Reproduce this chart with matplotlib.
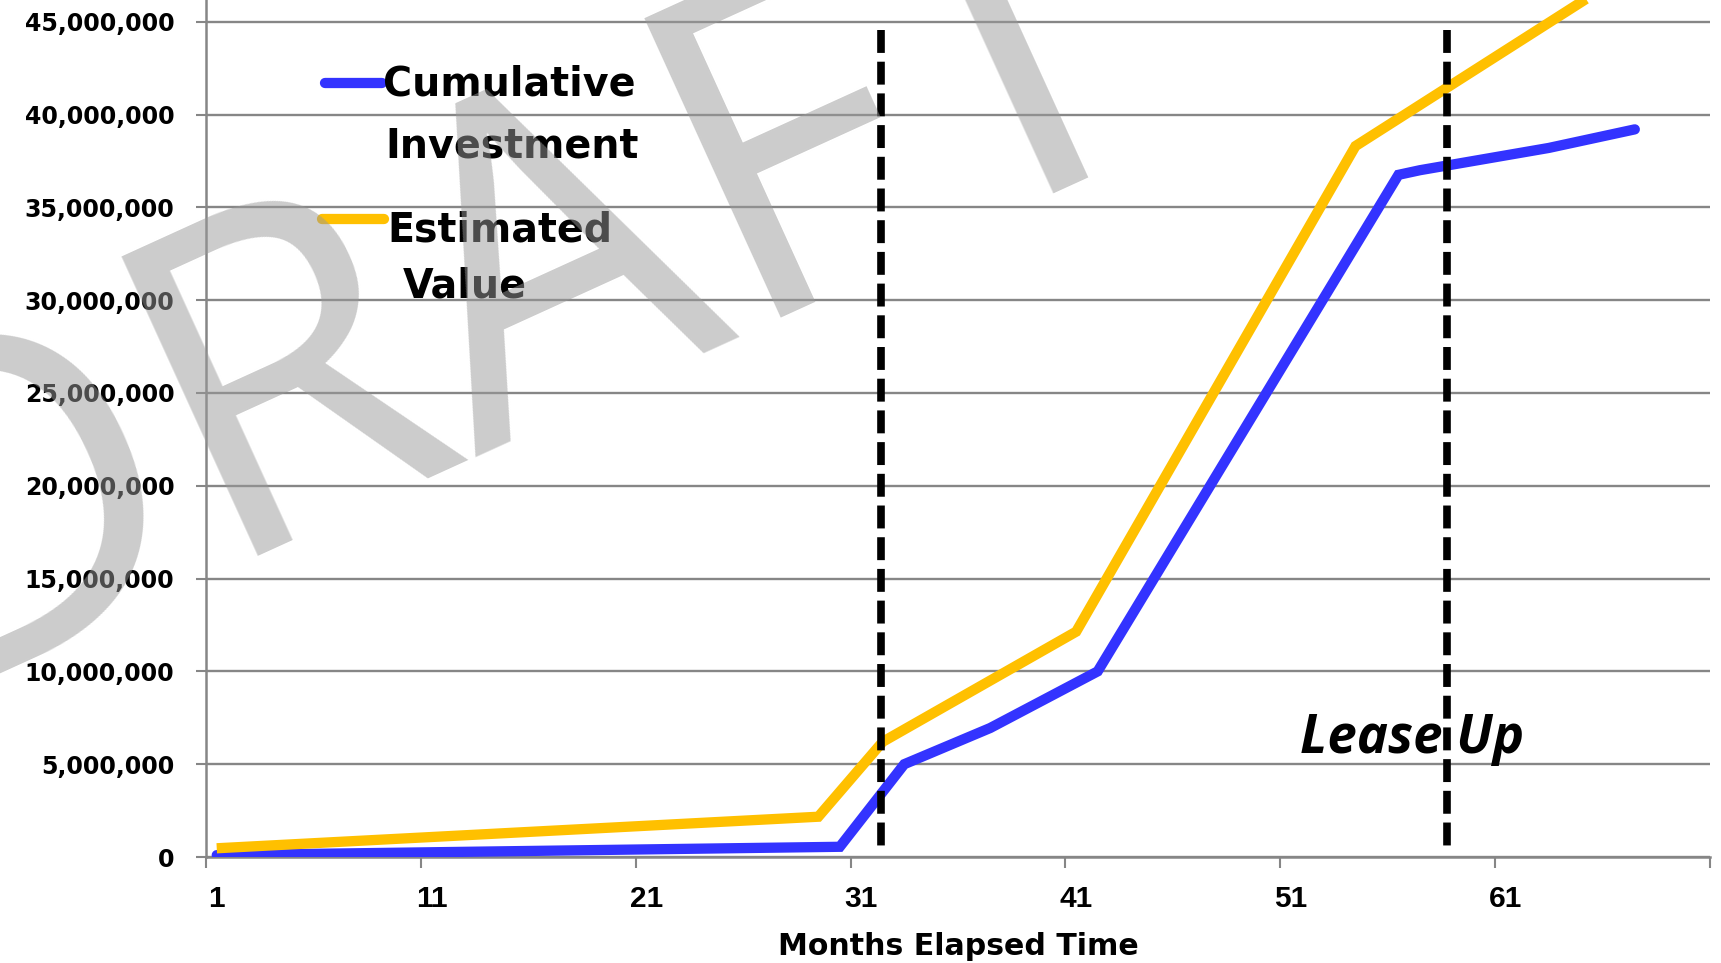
import matplotlib
matplotlib.use("Agg")
import matplotlib.pyplot as plt
from matplotlib.ticker import FuncFormatter

W, H, DPI = 1721, 963, 100

# --- data (dollars) ---
months_inv = [1, 30, 33, 37, 42, 56, 57, 63, 67]
cum_investment = [100_000, 550_000, 5_000_000, 6_950_000, 10_000_000,
                  36_750_000, 37_000_000, 38_200_000, 39_200_000]

months_val = [1, 29, 32, 41, 54, 67]
est_value = [470_000, 2_170_000, 6_210_000, 12_140_000,
             38_300_000, 47_900_000]

phase_marks = [31.9, 58.25]          # dashed phase boundaries (months)
x_labels = [1, 11, 21, 31, 41, 51, 61]
n_months = 70
y_ticks = [i * 5_000_000 for i in range(10)]

BLUE = "#3333FF"
GOLD = "#FFC000"
GRID = "#868686"


def px(x, y):
    """pixel position -> figure fraction"""
    return x / W, 1 - y / H


fig = plt.figure(figsize=(W / DPI, H / DPI), dpi=DPI)
ax = fig.add_axes([206 / W, 1 - 857 / H, (1710 - 206) / W, 857 / H])

ax.plot(months_inv, cum_investment, color=BLUE, lw=7.4, solid_capstyle="round",
        solid_joinstyle="miter", zorder=3)
ax.plot(months_val, est_value, color=GOLD, lw=7.4, solid_capstyle="butt",
        solid_joinstyle="miter", zorder=3)

for m in phase_marks:
    ax.plot([m, m], [44_550_000, 200_000], color="black", lw=5.5,
            dashes=(3, 1.15), dash_capstyle="butt", zorder=5)

ax.text(51.4, 5_600_000, "Lease Up", fontfamily="Open Sans", fontweight="bold",
        fontstyle="italic", fontsize=38, ha="left", va="baseline", zorder=4)

# axes styling
ax.set_xlim(0.5, n_months + 0.5)
ax.set_ylim(0, 45_000_000 + 21.7 / 18.56 * 1_000_000)
ax.set_yticks(y_ticks)
ax.yaxis.set_major_formatter(FuncFormatter(lambda v, p: f"{v:,.0f}"))
ax.yaxis.grid(True, color=GRID, lw=1.7)
ax.set_axisbelow(True)

ax.set_xticks([0.5 + 10 * k for k in range(8)], labels=[""] * 8)
ax.set_xticks(x_labels, labels=[str(v) for v in x_labels], minor=True)

for side in ("top", "right"):
    ax.spines[side].set_visible(False)
for side in ("left", "bottom"):
    ax.spines[side].set_color(GRID)
    ax.spines[side].set_linewidth(1.8)

ax.tick_params(axis="x", which="major", length=8, width=1.5, color=GRID)
ax.tick_params(axis="x", which="minor", length=0, pad=20)
ax.tick_params(axis="y", length=7.2, width=1.5, color=GRID, pad=15.6)
for lab in ax.get_xticklabels(minor=True):
    lab.set_fontfamily("Liberation Sans")
    lab.set_fontweight("bold")
    lab.set_fontsize(21.5)
for lab in ax.get_yticklabels():
    lab.set_fontfamily("DejaVu Sans")
    lab.set_fontweight("bold")
    lab.set_fontsize(17)

fig.text(*px(958, 955), "Months Elapsed Time", fontfamily="DejaVu Sans",
         fontweight="bold", fontsize=21.6, ha="center", va="baseline")

# hand-placed legend
legend_font = dict(fontfamily="DejaVu Sans", fontweight="bold", fontsize=28.5,
                   ha="left", va="baseline")
for (x0, x1, y), c in (((325, 382, 83), BLUE), ((322, 384, 219.5), GOLD)):
    fig.add_artist(plt.Line2D([x0 / W, x1 / W], [1 - y / H, 1 - y / H],
                              color=c, lw=7.4, solid_capstyle="round"))
fig.text(*px(383, 96), "Cumulative", **legend_font)
fig.text(*px(385, 157), "Investment", **legend_font)
fig.text(*px(387, 242), "Estimated", **legend_font)
fig.text(*px(403, 297), "Value", **legend_font)

# watermark
fig.text(*px(-90, 694), "DRAFT", fontfamily="Open Sans", fontsize=331,
         color="#999999", alpha=0.5, rotation=24.5, rotation_mode="anchor",
         ha="left", va="baseline", zorder=10)

fig.savefig("out.png", dpi=DPI)
